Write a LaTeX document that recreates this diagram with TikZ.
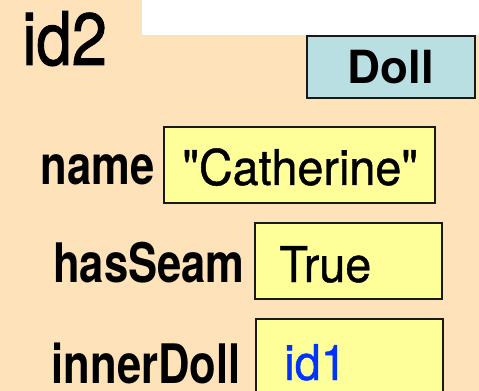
\documentclass[tikz,border=0pt]{standalone}
\usepackage{fontspec}
\usepackage{tikz}

\newfontfamily\keyfont{TeX Gyre Heros}[FakeStretch=0.8]
\newfontfamily\valfont{TeX Gyre Heros}[FakeStretch=0.95,FakeBold=0.8]
\newfontfamily\idfont{TeX Gyre Heros}[FakeStretch=0.86,FakeBold=1.2]
\newfontfamily\clsfont{TeX Gyre Heros}

\definecolor{framebg}{HTML}{FDE2BA}
\definecolor{valuebg}{HTML}{FFFF99}
\definecolor{classbg}{HTML}{BADFE3}
\definecolor{idblue}{HTML}{0033FF}

\tikzset{
  valbox/.style={draw=black!90, line width=1.1pt, fill=valuebg, inner sep=0pt},
  clsbox/.style={draw=black!90, line width=1.1pt, fill=classbg, inner sep=0pt},
  key/.style={anchor=base east, inner sep=0pt, font=\keyfont\bfseries\fontsize{31}{31}\selectfont},
  val/.style={anchor=base west, inner sep=0pt, font=\valfont\fontsize{28}{28}\selectfont}
}

\begin{document}
\begin{tikzpicture}[x=0.02cm,y=-0.02cm]
			\useasboundingbox (0,0) rectangle (479,391);
			\clip (0,0) rectangle (479,391);

			% Folder
			\fill[framebg] (0,0) rectangle (479,391);
			\fill[white] (142,0) rectangle (479,35);
			\node at (22,65) [anchor=base west, inner sep=0pt, font=\idfont\fontsize{42}{42}\selectfont] (id) {id2};

			% Class tab
			\node at (391,67) [clsbox, minimum width=168*0.02cm, minimum height=62*0.02cm] (cls) {};
			\node at (cls.center) [inner sep=0pt, font=\clsfont\bfseries\fontsize{26}{26}\selectfont] (clsname) {Doll};

			% Attribute name
			\node at (299.5,165) [valbox, minimum width=271*0.02cm, minimum height=76*0.02cm] (namebox) {};
			\node at (155,185) [key] (name) {name};
			\node at (182,185) [val] (nameval) {"Catherine"};

			% Attribute hasSeam
			\node at (348.5,261) [valbox, minimum width=187*0.02cm, minimum height=76*0.02cm] (seambox) {};
			\node at (245,282) [key] (seam) {hasSeam};
			\node at (279,282) [val] (seamval) {True};

			% Attribute innerDoll
			\node at (349.5,360) [valbox, minimum width=187*0.02cm, minimum height=82*0.02cm] (innerbox) {};
			\node at (241,383) [key] (inner) {innerDoll};
			\node at (284,380) [val, text=idblue] (innerval) {id1};
		\end{tikzpicture}
\end{document}
